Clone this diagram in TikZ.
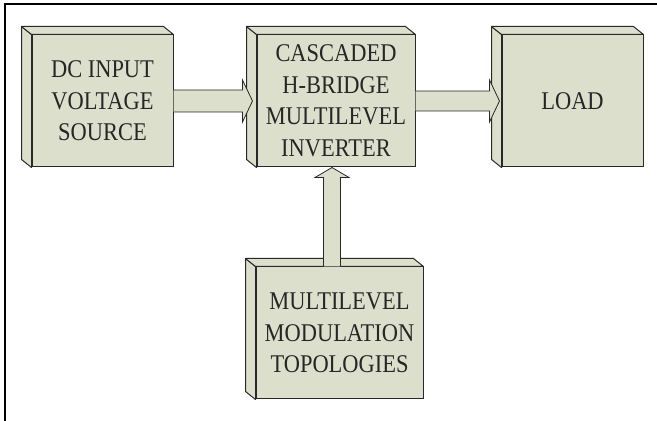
\documentclass[tikz,border=0pt]{standalone}
\usepackage{fontspec}
\setmainfont{Liberation Serif}
\newfontfamily\blockfont[FakeStretch=0.88]{Liberation Serif}
\usepackage{tikz}
\usetikzlibrary{arrows.meta,positioning,calc,backgrounds}

\definecolor{slabgreen}{RGB}{221,223,205}
\definecolor{slabline}{RGB}{40,40,40}

\tikzset{
  blockface/.style={draw=slabline, fill=slabgreen, line width=1pt, inner sep=0pt,
    minimum height=132pt, align=center, text=black!85,
    font=\blockfont\fontsize{25.5}{31.5}\selectfont},
  slab/.style={draw=slabline, fill=slabgreen, line width=1pt, line join=round},
  arrowbody/.style={draw=slabline, fill=slabgreen, line width=0.8pt, line join=miter},
}

% side and top faces of a block, pushed back to the upper left
\newcommand{\slabsides}[1]{%
  \draw[slab] (#1.north west) -- (#1.south west) -- ++(-10,8)
    -- ($(#1.north west)+(-10,8)$) -- cycle;
  \draw[slab] (#1.north west) -- ($(#1.north west)+(-10,8)$)
    -- ($(#1.north east)+(-10,8)$) -- (#1.north east) -- cycle;
}

\begin{document}
\begin{tikzpicture}[x=1pt,y=1pt]
\useasboundingbox (0,0) rectangle (657,421);
% frame
\draw[line width=1.1pt] (657,417) -- (5,417) -- (5,0);

% blocks
\node[blockface, minimum width=141pt] (dc) at (102.5,320) {DC INPUT\\VOLTAGE\\SOURCE};
\node[blockface, minimum width=158pt] (chb) at (336,320) {CASCADED\\H-BRIDGE\\MULTILEVEL\\INVERTER};
\node[blockface, minimum width=141pt] (load) at (572.5,320) {LOAD};
\node[blockface, minimum width=167pt] (mlm) at (339.5,88) {MULTILEVEL\\MODULATION\\TOPOLOGIES};
\foreach \b in {dc,chb,load,mlm} {\slabsides{\b}}

% source -> inverter
\draw[arrowbody] ($(dc.east)+(0,11)$) -- ($(chb.west)+(-14,11)$) -- ++(0,10)
  -- ($(chb.west)+(-4,0)$) -- ($(chb.west)+(-14,-21)$) -- ++(0,10)
  -- ($(dc.east)+(0,-11)$);
% inverter -> load
\draw[arrowbody] ($(chb.east)+(0,10)$) -- ($(load.west)+(-12,10)$) -- ++(0,11)
  -- ($(load.west)+(-2,0)$) -- ($(load.west)+(-12,-21)$) -- ++(0,11)
  -- ($(chb.east)+(0,-10)$);
% modulation -> inverter
\coordinate (up) at ($(chb.south)+(-4,0)$);
\coordinate (upfoot) at (up |- mlm.north);
\draw[arrowbody] ($(upfoot)+(-8.5,0)$) -- ($(up)+(-8.5,-10)$) -- ++(-8.5,0)
  -- (up) -- ($(up)+(17,-10)$) -- ++(-8.5,0) -- ($(upfoot)+(8.5,0)$);
\end{tikzpicture}
\end{document}
